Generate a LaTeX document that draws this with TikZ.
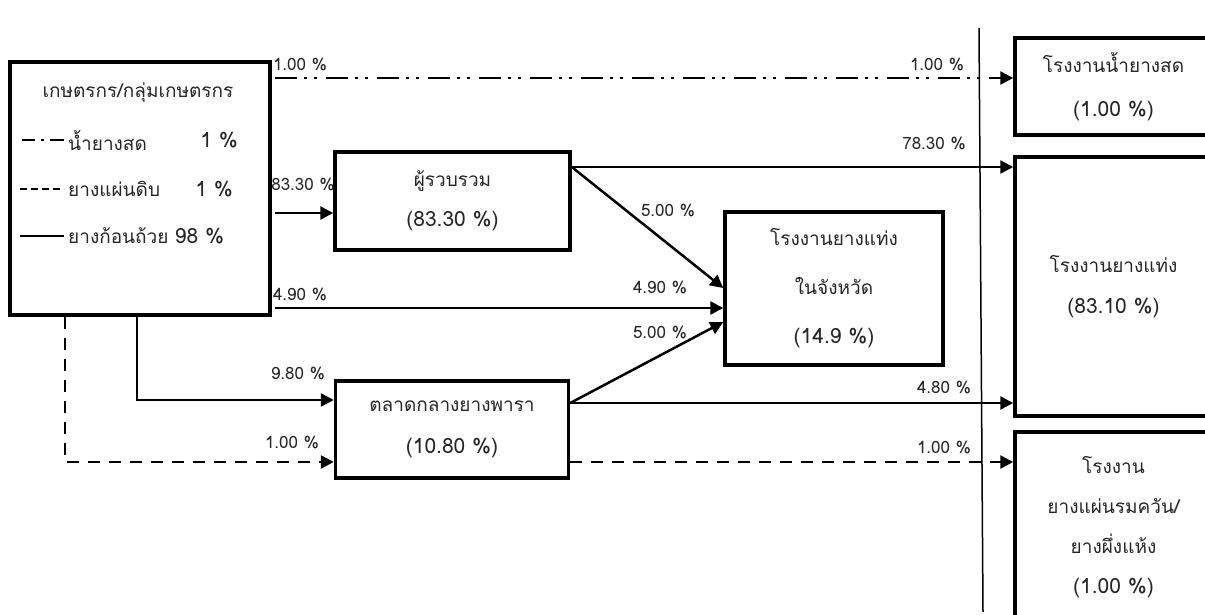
\documentclass[tikz,border=0pt]{standalone}
\usepackage{fontspec}
\setmainfont[Script=Thai]{Loma}
\usetikzlibrary{arrows.meta}
\newcommand\mainfnt{\fontsize{19}{40}\selectfont}
\newcommand\lblfnt{\fontsize{17}{20}\selectfont}
\newcommand\nm[1]{{\fontsize{21}{24}\selectfont #1}}
\begin{document}
\begin{tikzpicture}[x=1pt,y=-1pt,
  box/.style={draw, line width=3.5pt, inner sep=0pt, align=center, text=black!85},
  flow/.style={line width=2.5pt, -{Triangle[length=13pt,width=13pt]}},
  dashdotline/.style={dash pattern=on 22pt off 7pt on 3pt off 7pt on 3pt off 9pt},
  dashline/.style={dash pattern=on 12pt off 9pt},
  lbl/.style={font=\lblfnt, inner sep=0pt, text=black!85},
  legtxt/.style={font=\mainfnt, inner sep=0pt, text=black!85},
  legline/.style={line width=1.5pt}]
\useasboundingbox (0,0) rectangle (1205,615);
\clip (0,0) rectangle (1205,615);

% boxes
\node[box, minimum width=260, minimum height=253] (farm) at (140,188.5) {};
\node[box, minimum width=235, minimum height=98, font=\fontsize{19}{40}\selectfont] (coll) at (452.5,201) {ผู้รวบรวม\\\nm{(83.30 \%)}};
\node[box, minimum width=233, minimum height=97, font=\fontsize{19}{42}\selectfont] (mkt) at (452,429.5) {ตลาดกลางยางพารา\\\nm{(10.80 \%)}};
\node[box, minimum width=218, minimum height=153, font=\fontsize{19}{49}\selectfont] (prov) at (834,288.5) {โรงงานยางแท่ง\\ในจังหวัด\\\nm{(14.9 \%)}};
\node[box, minimum width=197, minimum height=97, font=\fontsize{19}{44}\selectfont] (r1) at (1113.5,86.5) {โรงงานน้ำยางสด\\\nm{(1.00 \%)}};
\node[box, minimum width=197, minimum height=259, font=\fontsize{19}{41}\selectfont] (r2) at (1113.5,286.5) {โรงงานยางแท่ง\\\nm{(83.10 \%)}};
\node[box, minimum width=197, minimum height=190, font=\fontsize{19}{40}\selectfont] (r3) at (1113.5,527) {โรงงาน\\ยางแผ่นรมควัน/\\ยางผึ่งแห้ง\\\nm{(1.00 \%)}};

% farmer box contents
\node[legtxt] (farmt) at (138,93) {เกษตรกร/กลุ่มเกษตรกร};
\draw[legline, dash pattern=on 13pt off 6pt on 3pt off 6pt on 14pt] (22,140) -- (64,140);
\draw[legline, dash pattern=on 7pt off 4pt] (20,189) -- (64,189);
\draw[legline] (20,236) -- (64,236);
\node[legtxt, anchor=west] (l1) at (68,140) {น้ำยางสด};
\node[legtxt, anchor=east] (l1p) at (238,140) {\nm{1 \%}};
\node[legtxt, anchor=west] (l2) at (68,189) {ยางแผ่นดิบ};
\node[legtxt, anchor=east] (l2p) at (233,189) {\nm{1 \%}};
\node[legtxt, anchor=west] (l3) at (68,236) {ยางก้อนถ้วย \nm{98 \%}};

% separator
\coordinate (vt) at (979,28);
\coordinate (vb) at (983,612);
\draw[line width=1.5pt] (vt) -- (vb);

% connectors
\coordinate (a1) at (275,78);
\draw[flow, dashdotline] (a1) -- (a1 -| r1.west);
\coordinate (a2) at (275,213);
\draw[flow] (a2) -- (a2 -| coll.west);
\coordinate (c1) at (coll.east |- 0,167);
\draw[flow] (c1) -- (c1 -| r2.west);
\draw[flow] (c1) -- (prov.west |- 0,288);
\coordinate (a3) at (275,308);
\draw[flow] (a3) -- (a3 -| prov.west);
\coordinate (m1) at (mkt.east |- 0,403);
\draw[flow] (m1) -- (prov.west |- 0,322);
\draw[flow] (m1) -- (m1 -| r2.west);
\coordinate (m2) at (mkt.east |- 0,462);
\draw[flow, dashline] (m2) -- (m2 -| r3.west);
\coordinate (f1) at (farm.south -| 137,0);
\draw[flow] (f1) |- (mkt.west |- 0,400);
\coordinate (f2) at (farm.south -| 65,0);
\draw[flow, dashline] (f2) |- (mkt.west |- 0,462);

% labels
\node[lbl] (t1) at (300,65) {1.00 \%};
\node[lbl] (t2) at (937,65) {1.00 \%};
\node[lbl] (t3) at (303,185) {83.30 \%};
\node[lbl] (t4) at (934,144) {78.30 \%};
\node[lbl] (t5) at (668,211) {5.00 \%};
\node[lbl] (t6) at (300,295) {4.90 \%};
\node[lbl] (t7) at (660,288) {4.90 \%};
\node[lbl] (t8) at (660,333) {5.00 \%};
\node[lbl] (t9) at (298,374) {9.80 \%};
\node[lbl] (t10) at (292,443) {1.00 \%};
\node[lbl] (t11) at (944,388) {4.80 \%};
\node[lbl] (t12) at (944,448) {1.00 \%};
\end{tikzpicture}
\end{document}
